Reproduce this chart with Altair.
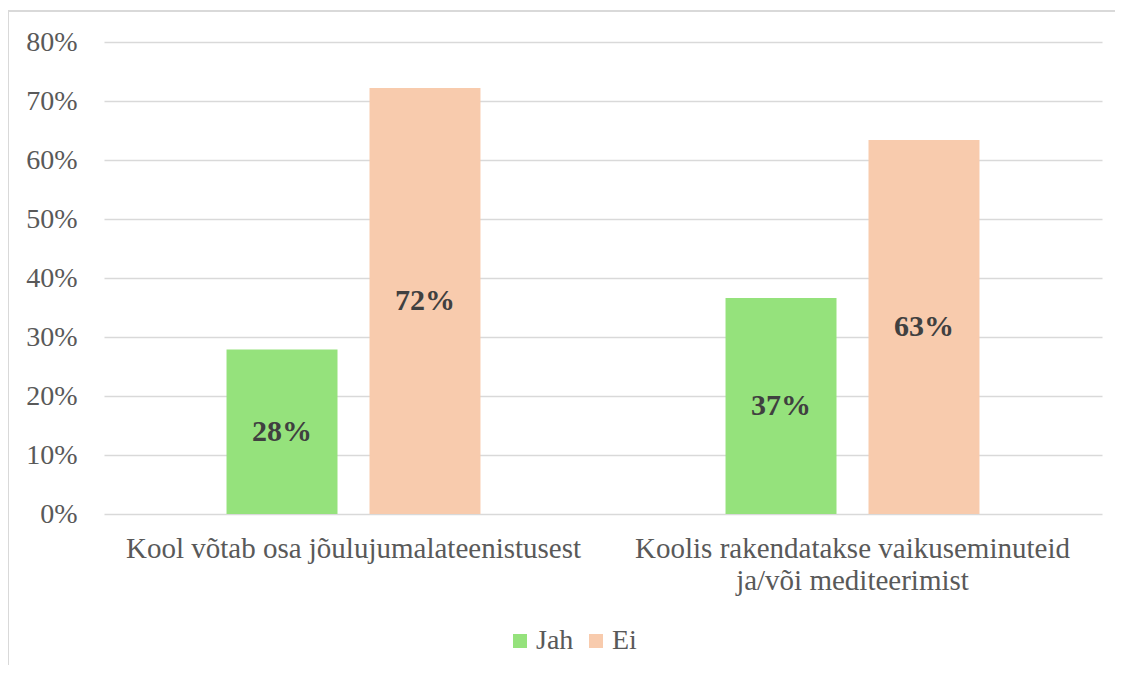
import altair as alt
import pandas as pd

categories = ["Kool võtab osa jõulujumalateenistusest",
              "Koolis rakendatakse vaikuseminuteid|ja/või mediteerimist"]
series = ["Jah", "Ei"]
jah = [27.9, 36.6]
ei = [72.2, 63.4]
colors = ["#95E27C", "#F8CBAD"]

rows = []
for i, c in enumerate(categories):
    rows.append({"cat": c, "series": "Jah", "value": jah[i]})
    rows.append({"cat": c, "series": "Ei", "value": ei[i]})
df = pd.DataFrame(rows)

FONT = "Liberation Serif"

x = alt.X("cat:N", sort=categories, title=None,
          scale=alt.Scale(paddingInner=0, paddingOuter=0),
          axis=alt.Axis(labelExpr="split(datum.label, '|')", labelAngle=0,
                        labelFontSize=29, labelFont=FONT, labelColor="#595959",
                        labelPadding=20, labelLineHeight=32, ticks=False,
                        domain=False, grid=False, labelLimit=700))
xo = alt.XOffset("series:N", sort=series,
                 scale=alt.Scale(paddingInner=0.2238, paddingOuter=0.857))

bars = alt.Chart(df).mark_bar().encode(
    x=x, xOffset=xo,
    y=alt.Y("value:Q", title=None,
            scale=alt.Scale(domain=[0, 80]),
            axis=alt.Axis(values=[0, 10, 20, 30, 40, 50, 60, 70, 80],
                          labelExpr="datum.value + '%'",
                          labelFontSize=28, labelFont=FONT, labelColor="#595959",
                          labelPadding=27, ticks=False, domain=False,
                          gridColor="#D9D9D9", gridWidth=1.3)),
    color=alt.Color("series:N", sort=series,
                    scale=alt.Scale(domain=series, range=colors),
                    legend=alt.Legend(title=None, orient="none", direction="horizontal",
                                      legendX=402, legendY=585,
                                      symbolType="square", symbolSize=196,
                                      symbolStrokeWidth=0,
                                      labelFontSize=28, labelFont=FONT,
                                      labelColor="#595959", columnPadding=8,
                                      labelOffset=2)),
)

labels = alt.Chart(df).transform_calculate(
    mid="datum.value / 2",
    txt="format(round(datum.value), 'd') + '%'"
).mark_text(font=FONT, fontSize=30, fontWeight="bold", color="#404040",
            baseline="middle").encode(
    x=x, xOffset=xo,
    y=alt.Y("mid:Q"),
    text="txt:N",
)

frame_left = alt.Chart(df).mark_rule(stroke="#D9D9D9", strokeWidth=1.5, clip=False).encode(
    x=alt.value(-96), y=alt.value(-31), y2=alt.value(800),
)
frame_top = alt.Chart(df).mark_rule(stroke="#D9D9D9", strokeWidth=1.5, clip=False).encode(
    x=alt.value(-96), x2=alt.value(1300), y=alt.value(-31),
)

chart = alt.layer(frame_left, frame_top, bars, labels).properties(
    width=998, height=472,
    autosize=alt.AutoSizeParams(type="none"),
    padding={"left": 96, "top": 34, "right": 13, "bottom": 151},
).configure_view(stroke=None)

chart.save("out.html", embed_options={"renderer": "svg", "actions": False})
